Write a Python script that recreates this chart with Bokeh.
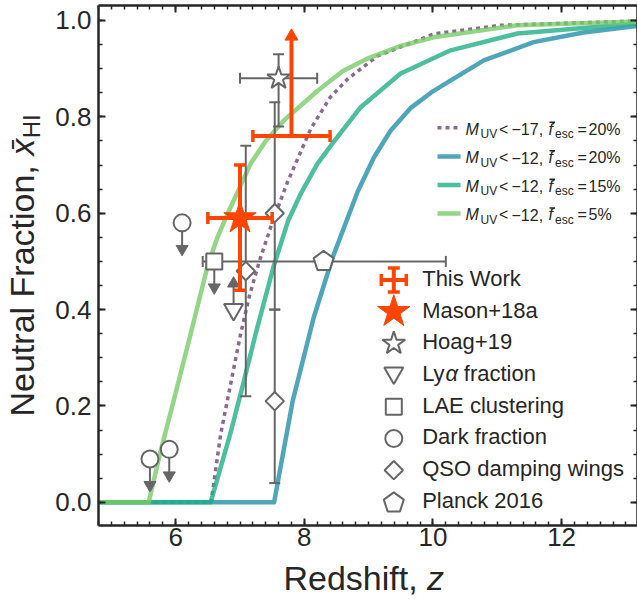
import math
from bokeh.plotting import figure
from bokeh.models import Range1d, LinearAxis, SingleIntervalTicker, PrintfTickFormatter, Label
from bokeh.embed import file_html
from bokeh.resources import INLINE

# ------------------------------------------------------------------ data
# reionisation histories: redshift z and neutral fraction x_HI
z_m17_f20 = [4.8, 6.55, 6.70, 6.855, 7.01, 7.15, 7.3, 7.5, 7.736, 8.10, 8.4, 8.67, 9.135, 10.015, 11.05, 13.2]
x_m17_f20 = [0.0, 0.0, 0.142, 0.246, 0.35, 0.43, 0.50, 0.58, 0.664, 0.775, 0.84, 0.878, 0.926, 0.972, 0.990, 0.999]
z_m12_f20 = [4.8, 7.53, 7.82, 8.145, 8.44, 8.83, 9.08, 9.34, 9.65, 10.01, 10.79, 11.565, 12.34, 13.2]
x_m12_f20 = [0.0, 0.0, 0.211, 0.383, 0.508, 0.645, 0.715, 0.771, 0.818, 0.854, 0.917, 0.955, 0.975, 0.989]
z_m12_f15 = [4.8, 6.544, 6.855, 7.057, 7.244, 7.523, 7.75, 7.943, 8.2, 8.456, 8.876, 9.498, 10.275, 11.316, 13.2]
x_m12_f15 = [0.0, 0.0, 0.145, 0.25, 0.35, 0.49, 0.585, 0.64, 0.702, 0.748, 0.82, 0.89, 0.938, 0.973, 0.994]
z_m12_f5 = [4.8, 5.58, 5.767, 5.969, 6.233, 6.497, 6.65, 6.808, 7.166, 7.4, 7.679, 8.207, 8.6, 9.0, 9.5, 10.011, 11.316, 13.2]
x_m12_f5 = [0.0, 0.0, 0.107, 0.211, 0.35, 0.491, 0.55, 0.599, 0.703, 0.75, 0.792, 0.854, 0.895, 0.922, 0.947, 0.965, 0.99, 0.998]

curve_muv = ["\u221217", "\u221212", "\u221212", "\u221212"]
curve_fesc = ["20%", "20%", "15%", "5%"]

# observational constraints
thiswork_z, thiswork_x = [7.8], [0.76]            # lower limit
thiswork_zlo, thiswork_zhi = [7.2], [8.4]
thiswork_arrow = [0.967]
mason_z, mason_x = [7.0], [0.59]
mason_xlo, mason_xhi = [0.44], [0.70]
mason_zlo, mason_zhi = [6.5], [7.5]
hoag_z, hoag_x = [7.6], [0.88]
hoag_xlo, hoag_xhi = [0.78], [0.93]
hoag_zlo, hoag_zhi = [7.0], [8.2]
lya_z, lya_x = [6.9], [0.40]                      # lower limit
lae_z, lae_x = [6.6], [0.50]                      # upper limit
dark_z, dark_x = [5.6, 5.9, 6.1], [0.09, 0.11, 0.58]   # upper limits
qso_z = [7.09, 7.54, 7.54]
qso_x = [0.48, 0.60, 0.21]
qso_xlo = [0.22, 0.40, 0.04]
qso_xhi = [0.74, 0.83, 0.40]
planck_z, planck_x = [8.3], [0.5]
planck_zlo, planck_zhi = [6.42], [10.2]
limit_len = 0.054

legend_labels = ["This Work", "Mason+18a", "Hoag+19", "Ly\u03b1 fraction", "LAE clustering",
                 "Dark fraction", "QSO damping wings", "Planck 2016"]

# ------------------------------------------------------------------ style / geometry
FONT = "Liberation Sans"
INK = "#262626"
GRAY = "#666666"
ORANGE = "#ff4500"
CURVE_COLORS = ["#6d4572", "#2390a6", "#20af87", "#78cc69"]
CURVE_DASH = ["4 4", "solid", "solid", "solid"]
CURVE_WIDTH = [3.5, 4.5, 4.5, 4.5]
CURVE_ALPHA = 0.8
TEXT_SHIFT = 0.4    # correction of the label anchor, in em

W, H = 637, 599
AX_L, AX_R, AX_T, AX_B = 98, 637, 5, 525      # canvas pixels of the axes box
X0, X1 = 4.8, 13.18
Y0, Y1 = -0.048, 1.031
PX_PER_X = (AX_R - AX_L) / (X1 - X0)
PX_PER_Y = (AX_B - AX_T) / (Y1 - Y0)

p = figure(width=W, height=H,
           x_range=Range1d(X0 - AX_L / PX_PER_X, X1 + (W - AX_R) / PX_PER_X),
           y_range=Range1d(Y0 - (H - AX_B) / PX_PER_Y, Y1 + AX_T / PX_PER_Y),
           output_backend="svg", toolbar_location=None,
           min_border_left=0, min_border_right=0, min_border_top=0, min_border_bottom=0,
           background_fill_color="white", border_fill_color="white", outline_line_color=None)
p.xgrid.visible = False
p.ygrid.visible = False
p.extra_x_ranges = {"cx": Range1d(0, W)}
p.extra_y_ranges = {"cy": Range1d(H, 0)}


def style_axis(ax, interval, minor, fmt, show_labels, loc, bounds, standoff=0):
    ax.fixed_location = loc
    ax.bounds = bounds
    ax.ticker = SingleIntervalTicker(interval=interval, num_minor_ticks=minor)
    ax.formatter = PrintfTickFormatter(format=fmt)
    ax.axis_line_color = INK
    ax.axis_line_width = 2.5
    ax.major_tick_line_color = INK
    ax.major_tick_line_width = 2
    ax.minor_tick_line_color = INK
    ax.minor_tick_line_width = 1.5
    ax.major_tick_in = 7
    ax.major_tick_out = 0
    ax.minor_tick_in = 4
    ax.minor_tick_out = 0
    if show_labels:
        ax.major_label_text_font = FONT
        ax.major_label_text_font_size = "26px"
        ax.major_label_text_color = INK
        ax.major_label_standoff = standoff
    else:
        ax.major_label_text_font_size = "0px"
        ax.major_label_text_color = None
        ax.major_label_standoff = 0


style_axis(p.xaxis[0], 2, 10, "%d", True, Y0, (X0, X1), 2)
style_axis(p.yaxis[0], 0.2, 4, "%.1f", True, X0, (Y0, Y1), 7)
top_ax = LinearAxis()
style_axis(top_ax, 2, 10, "%d", False, Y1, (X0, X1))
p.add_layout(top_ax, "above")
right_ax = LinearAxis()
style_axis(right_ax, 0.2, 4, "%.1f", False, X1, (Y0, Y1))
p.add_layout(right_ax, "right")

# ------------------------------------------------------------------ curves
curves = [(z_m17_f20, x_m17_f20), (z_m12_f20, x_m12_f20), (z_m12_f15, x_m12_f15), (z_m12_f5, x_m12_f5)]
for (zs, xs), col, dash, lw in zip(curves, CURVE_COLORS, CURVE_DASH, CURVE_WIDTH):
    p.line(zs, xs, line_color=col, line_alpha=CURVE_ALPHA, line_width=lw, line_dash=dash,
           line_join="round")

# ------------------------------------------------------------------ grey constraints
vz = hoag_z + qso_z
vlo = hoag_xlo + qso_xlo
vhi = hoag_xhi + qso_xhi
p.segment(x0=vz, y0=vlo, x1=vz, y1=vhi, line_color=GRAY, line_width=2)
p.scatter(x=vz + vz, y=vlo + vhi, marker="dash", size=11, line_color=GRAY, line_width=2)
hy = hoag_x + planck_x
hlo = hoag_zlo + planck_zlo
hhi = hoag_zhi + planck_zhi
p.segment(x0=hlo, y0=hy, x1=hhi, y1=hy, line_color=GRAY, line_width=2)
p.scatter(x=hlo + hhi, y=hy + hy, marker="dash", angle=math.pi / 2, size=11,
          line_color=GRAY, line_width=2)

# limits
up_z = dark_z + lae_z
up_x = dark_x + lae_x
up_end = [v - limit_len for v in up_x]
p.segment(x0=up_z, y0=up_x, x1=up_z, y1=up_end, line_color=GRAY, line_width=2)
p.scatter(x=up_z, y=up_end, marker="inverted_triangle", size=12, fill_color=GRAY, line_color=GRAY)
lo_end = [v + limit_len for v in lya_x]
p.segment(x0=lya_z, y0=lya_x, x1=lya_z, y1=lo_end, line_color=GRAY, line_width=2)
p.scatter(x=lya_z, y=lo_end, marker="triangle", size=12, fill_color=GRAY, line_color=GRAY)

open_kw = dict(fill_color="white", line_color=GRAY, line_width=2)
p.scatter(hoag_z, hoag_x, marker="star", size=24, **open_kw)
p.scatter(lya_z, lya_x, marker="inverted_triangle", size=19, **open_kw)
p.scatter(lae_z, lae_x, marker="square", size=16, **open_kw)
p.scatter(dark_z, dark_x, marker="circle", size=17, **open_kw)
p.scatter(qso_z, qso_x, marker="square", angle=math.pi / 4, size=13, **open_kw)


def pentagon_data(cz, cx, r):
    ang = [math.pi / 2 + k * 2 * math.pi / 5 for k in range(5)]
    return ([cz + r * math.cos(a) / PX_PER_X for a in ang],
            [cx + r * math.sin(a) / PX_PER_Y for a in ang])


for cz, cx in zip(planck_z, planck_x):
    pz, px_ = pentagon_data(cz, cx, 10.5)
    p.patch(pz, px_, **open_kw)

# ------------------------------------------------------------------ orange constraints
p.segment(x0=thiswork_zlo, y0=thiswork_x, x1=thiswork_zhi, y1=thiswork_x, line_color=ORANGE, line_width=4)
p.scatter(x=thiswork_zlo + thiswork_zhi, y=thiswork_x + thiswork_x, marker="dash", angle=math.pi / 2,
          size=12, line_color=ORANGE, line_width=3.5)
p.segment(x0=thiswork_z, y0=thiswork_x, x1=thiswork_z, y1=thiswork_arrow, line_color=ORANGE, line_width=4)
p.scatter(x=thiswork_z, y=thiswork_arrow, marker="triangle", size=13, fill_color=ORANGE, line_color=ORANGE)

p.segment(x0=mason_z, y0=mason_xlo, x1=mason_z, y1=mason_xhi, line_color=ORANGE, line_width=4)
p.segment(x0=mason_zlo, y0=mason_x, x1=mason_zhi, y1=mason_x, line_color=ORANGE, line_width=4)
p.scatter(x=mason_z + mason_z, y=mason_xlo + mason_xhi, marker="dash", size=12,
          line_color=ORANGE, line_width=3.5)
p.scatter(x=mason_zlo + mason_zhi, y=mason_x + mason_x, marker="dash", angle=math.pi / 2, size=12,
          line_color=ORANGE, line_width=3.5)
p.scatter(mason_z, mason_x, marker="star", size=34, fill_color=ORANGE, line_color=ORANGE)

# ------------------------------------------------------------------ text helpers (canvas px)
CR = dict(x_range_name="cx", y_range_name="cy")


def T(cx, cy, s, size, italic=False, angle=0.0):
    """cx, cy: canvas position of the text baseline start"""
    if angle:
        cx -= TEXT_SHIFT * size
    else:
        cy -= TEXT_SHIFT * size
    p.add_layout(Label(x=cx, y=cy, text=s, text_font=FONT, text_font_size=f"{size}px",
                       text_font_style="italic" if italic else "normal", text_color=INK,
                       text_align="left", text_baseline="alphabetic", angle=angle, **CR))


# axis titles
T(283, 591, "Redshift, ", 34)
T(426.6, 591, "z", 34, italic=True)
T(35, 416, "Neutral Fraction, ", 34, angle=math.pi / 2)
T(35, 416 - 260.7, "x\u0304", 34, italic=True, angle=math.pi / 2)
T(41, 416 - 260.7 - 17.5, "HI", 24, angle=math.pi / 2)

# ------------------------------------------------------------------ model legend
for i in range(4):
    yb = 135 + 28.6 * i
    yl = yb - 7.7
    p.segment(x0=[437], y0=[yl], x1=[460], y1=[yl], line_color=CURVE_COLORS[i],
              line_alpha=CURVE_ALPHA, line_width=CURVE_WIDTH[i], line_dash=CURVE_DASH[i], **CR)
    T(465, yb, "M", 16, italic=True)
    T(480, yb + 3.5, "UV", 12)
    T(498.5, yb, "<", 16)
    T(511, yb, curve_muv[i] + ",", 16)
    T(548, yb, "f", 16, italic=True)
    p.segment(x0=[549], y0=[yb - 13.3], x1=[554.5], y1=[yb - 13.3],
              line_color=INK, line_width=1.6, **CR)
    T(554.5, yb + 3.5, "esc", 12)
    T(577, yb, "=", 16)
    T(588, yb, curve_fesc[i], 16)

# ------------------------------------------------------------------ data legend
LX = 393.3
rows = [279.5 + 31.7 * i for i in range(8)]
r0 = rows[0]
p.segment(x0=[LX, LX - 12.5], y0=[r0 - 12, r0], x1=[LX, LX + 12.5], y1=[r0 + 12, r0],
          line_color=ORANGE, line_width=4, **CR)
p.scatter(x=[LX, LX, LX - 12.5, LX + 12.5], y=[r0 - 12, r0 + 12, r0, r0], marker="dash",
          angle=[0, 0, math.pi / 2, math.pi / 2], size=12, line_color=ORANGE, line_width=3.5, **CR)
p.scatter(x=[LX], y=[rows[1]], marker="star", size=34, fill_color=ORANGE, line_color=ORANGE, **CR)
p.scatter(x=[LX], y=[rows[2]], marker="star", size=24, **open_kw, **CR)
p.scatter(x=[LX], y=[rows[3] - 2], marker="inverted_triangle", size=19, **open_kw, **CR)
p.scatter(x=[LX], y=[rows[4]], marker="square", size=16, **open_kw, **CR)
p.scatter(x=[LX], y=[rows[5]], marker="circle", size=17, **open_kw, **CR)
p.scatter(x=[LX], y=[rows[6]], marker="square", angle=math.pi / 4, size=13, **open_kw, **CR)
ang = [math.pi / 2 + k * 2 * math.pi / 5 for k in range(5)]
p.patch([LX + 10.5 * math.cos(a) for a in ang], [rows[7] + 1 - 10.5 * math.sin(a) for a in ang],
        **open_kw, **CR)

for i, lab in enumerate(legend_labels):
    yb = 286.7 + 31.7 * i
    if lab.startswith("Ly"):
        T(421.7, yb, "Ly", 22)
        T(445, yb, "\u03b1", 22, italic=True)
        T(463.3, yb, lab.split(" ", 1)[1], 22)
    else:
        T(421.7, yb, lab, 22)

open("out.html", "w").write(file_html(p, INLINE))
